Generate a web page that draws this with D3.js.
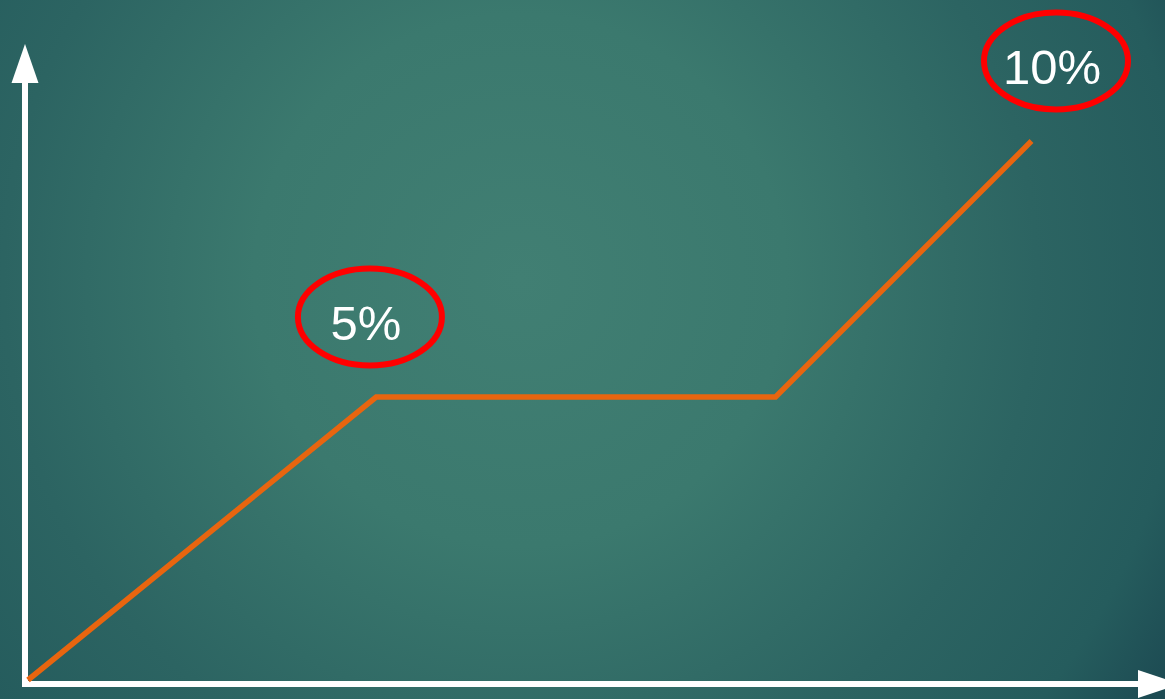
<!DOCTYPE html>
<html>
<head>
<meta charset="utf-8">
<script src="https://cdn.jsdelivr.net/npm/d3@7"></script>
<style>
  html, body { margin: 0; padding: 0; overflow: hidden; }
  svg { display: block; }
</style>
</head>
<body>
<svg id="chart"></svg>
<script>
// Data
const xValues = [0, 3.4, 7.3, 9.8];
const yValues = [0, 5.25, 5.25, 10];
const labels = ['5%', '10%'];
const labelX = [3.3, 10.0];
const labelY = [5.25, 10];

// SVG Dimensions
const width = 1165;
const height = 699;

const svg = d3.select('#chart')
    .attr('width', width)
    .attr('height', height);

// Background gradient
const defs = svg.append('defs');
const grad = defs.append('radialGradient')
    .attr('id', 'bg')
    .attr('gradientUnits', 'userSpaceOnUse')
    .attr('cx', 520).attr('cy', 280).attr('r', 760);
[[0, '#417f73'], [0.35, '#3b796e'], [0.68, '#2c6462'], [0.88, '#255c5d'], [1, '#1d4b53']]
    .forEach(([o, c]) => grad.append('stop').attr('offset', o).attr('stop-color', c));

svg.append('rect')
    .attr('width', width)
    .attr('height', height)
    .attr('fill', 'url(#bg)');

// Scales
const x = d3.scaleLinear().domain([0, 10]).range([28, 1052]);
const y = d3.scaleLinear().domain([0, 10]).range([680, 141]);

// Axes with arrows
const axisX0 = 25, axisY0 = 684;
svg.append('line')
    .attr('x1', axisX0).attr('y1', axisY0 + 3)
    .attr('x2', axisX0).attr('y2', 80)
    .attr('stroke', '#fff').attr('stroke-width', 6);
svg.append('path')
    .attr('d', `M${axisX0},44 L${axisX0 - 13.5},83 L${axisX0 + 13.5},83 Z`)
    .attr('fill', '#fff');
svg.append('line')
    .attr('x1', axisX0 - 3).attr('y1', axisY0)
    .attr('x2', 1140).attr('y2', axisY0)
    .attr('stroke', '#fff').attr('stroke-width', 6);
svg.append('path')
    .attr('d', `M1138,${axisY0 - 14} L1180,${axisY0} L1138,${axisY0 + 14} Z`)
    .attr('fill', '#fff');

// Line
const line = d3.line()
    .x((d, i) => x(xValues[i]))
    .y(d => y(d));

svg.append('path')
    .datum(yValues)
    .attr('d', line)
    .attr('fill', 'none')
    .attr('stroke', '#e8650f')
    .attr('stroke-width', 5.5)
    .attr('stroke-linejoin', 'miter');

// Labels with red ellipses
const lab = svg.selectAll('g.label')
    .data(labels)
    .enter()
    .append('g')
    .attr('class', 'label')
    .attr('transform', (d, i) => `translate(${x(labelX[i])},${y(labelY[i]) - 80})`);

lab.append('ellipse')
    .attr('cx', 4).attr('cy', 0)
    .attr('rx', 72).attr('ry', 48.5)
    .attr('fill', 'none')
    .attr('stroke', '#ff0000')
    .attr('stroke-width', 6);

lab.append('text')
    .attr('x', 0).attr('y', 23)
    .attr('text-anchor', 'middle')
    .attr('fill', '#fff')
    .style('font-family', '"Liberation Sans", Arial, sans-serif')
    .style('font-size', '49px')
    .text(d => d);
</script>
</body>
</html>
